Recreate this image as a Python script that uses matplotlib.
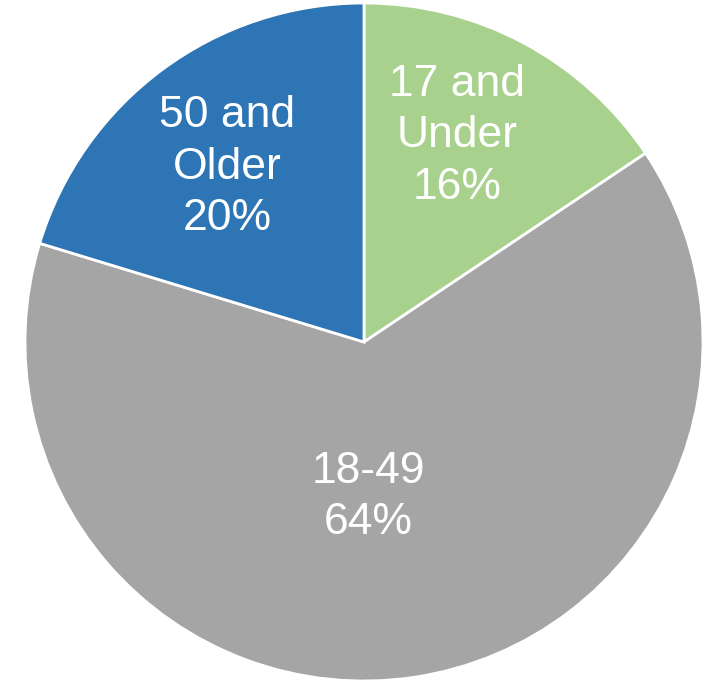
import numpy as np
import matplotlib
matplotlib.use("Agg")
import matplotlib.pyplot as plt

categories = ["17 and\nUnder", "18-49", "50 and\nOlder"]
values = [15.6, 64.1, 20.3]
labels_pct = [16, 64, 20]
colors = ["#A9D18E", "#A5A5A5", "#2E75B6"]
label_dist = [0.667, 0.457, 0.655]
label_angle_offset = [3.8, -7.0, 1.5]

fig = plt.figure(figsize=(7.16, 6.82), dpi=100)
W, H = 716, 682
cx, cy, r = 364, 342, 339
ax = fig.add_axes([(cx - r) / W, (H - cy - r) / H, 2 * r / W, 2 * r / H])
wedges, _ = ax.pie(values, colors=colors, startangle=90, counterclock=False,
                   wedgeprops=dict(edgecolor="white", linewidth=2), radius=1)
ax.set_xlim(-1, 1)
ax.set_ylim(-1, 1)
ax.set_aspect("auto")
ax.axis("off")

fam = ["Liberation Sans Narrow", "Liberation Sans", "DejaVu Sans"]
for w, cat, p, d, off in zip(wedges, categories, labels_pct, label_dist, label_angle_offset):
    ang = np.deg2rad((w.theta1 + w.theta2) / 2 + off)
    ax.text(d * np.cos(ang), d * np.sin(ang), f"{cat}\n{p}%", ha="center", va="center",
            color="white", fontsize=32, family=fam, linespacing=1.33)

fig.savefig("out.png", dpi=100)
